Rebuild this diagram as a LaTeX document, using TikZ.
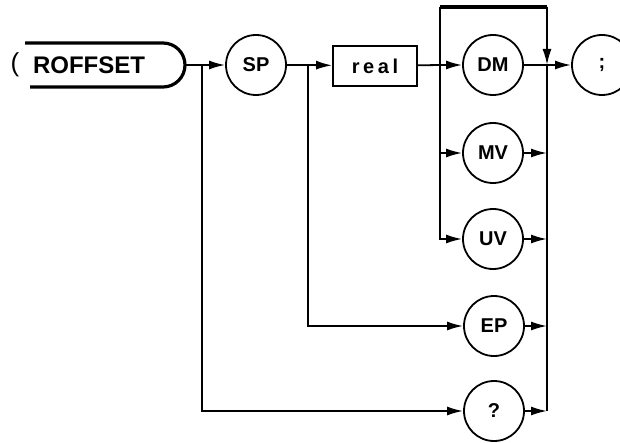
\documentclass[tikz,border=0pt]{standalone}
\usepackage{fontspec}
\setmainfont{Liberation Sans}
\newfontfamily\spacedfont[LetterSpace=18]{Liberation Sans}
\usetikzlibrary{positioning,arrows.meta}

\begin{document}
\begin{tikzpicture}[x=0.5pt, y=-0.5pt, >={Latex[length=8pt,width=4.5pt]}, line width=0.9pt,
    kw/.style={draw, circle, minimum size=30pt, inner sep=0pt, font=\bfseries\fontsize{10}{12}\selectfont},
    param/.style={draw, rectangle, minimum width=42pt, minimum height=20pt, inner sep=0pt, font=\spacedfont\bfseries\fontsize{10}{12}\selectfont}]
    \useasboundingbox (0,0) rectangle (620,443);

    % start of the command
    \draw[line width=1.6pt] (25,43) -- (163,43) arc[start angle=-90, end angle=90, radius=22] -- (30,87);
    \coordinate (cmdend) at (185,65);
    \node[font=\fontsize{13}{15}\selectfont] (paren) at (15,65) {(};
    \node[font=\bfseries\fontsize{12}{14}\selectfont] (cmd) at (89,65) {ROFFSET};

    % items
    \node[kw] (sp) at (256,65) {SP};
    \node[param] (real) at (375,66) {real};
    \node[kw] (dm) at (493,65) {DM};
    \node[kw] (mv) at (493,153) {MV};
    \node[kw] (uv) at (493,239) {UV};
    \node[kw] (ep) at (494,326) {EP};
    \node[kw] (qm) at (494,411) {?};
    \node[kw] (semi) at (602,65) {;};

    % junctions
    \coordinate (j1) at (202,65);
    \coordinate (j2) at (308,65);
    \coordinate (j3) at (440,65);
    \coordinate (bus) at (547,65);
    \coordinate (topl) at (440,7);
    \coordinate (topr) at (547,7);

    % main line
    \draw (cmdend) -- (j1);
    \draw[->] (j1) -- (sp);
    \draw (sp) -- (j2);
    \draw[->] (j2) -- (real);
    \draw (real) -- (j3);
    \draw[->] (j3) -- (dm);
    \draw (dm) -- (bus);
    \draw[->] (bus) -- (semi);

    % branches
    \draw (topl) -- (j3);
    \draw[->] (j3) |- (mv);
    \draw[->] (j3) |- (uv);
    \draw[->] (j2) |- (ep);
    \draw[->] (j1) |- (qm);
    \draw[line width=1.6pt] (topl) -- (topr);
    \draw[->] (topr) -- (bus);
    \draw (bus) -- (bus |- qm);
    \foreach \n in {mv,uv,ep,qm}
        \draw[->] (\n) -- (\n -| bus);
\end{tikzpicture}
\end{document}
